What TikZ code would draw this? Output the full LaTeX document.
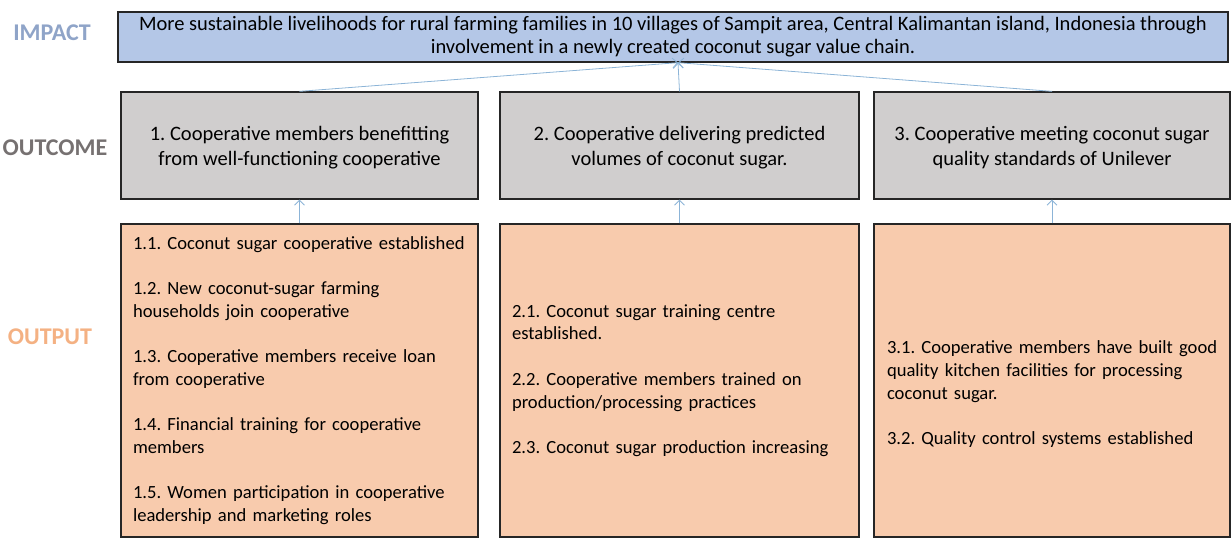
\documentclass[tikz,border=0pt]{standalone}
\usepackage{fontspec}
\setmainfont{Carlito}
\usepackage{tikz}
\usetikzlibrary{arrows.meta}
\usepackage{xcolor}
\definecolor{impactblue}{RGB}{180,199,231}
\definecolor{outcomegray}{RGB}{208,206,206}
\definecolor{outputpeach}{RGB}{248,203,173}
\definecolor{linkblue}{RGB}{140,180,215}
\definecolor{impacttitle}{RGB}{143,164,200}
\definecolor{outcometitle}{RGB}{118,113,113}
\definecolor{outputtitle}{RGB}{244,177,131}
\tikzset{
    level-box/.style = {draw=black!85, line width=1.3pt, rectangle, inner sep=0pt},
    impact-box/.style = {level-box, fill=impactblue, minimum width=1110pt, minimum height=50pt, align=center, font=\fontsize{20.5}{23}\selectfont},
    outcome-box/.style = {level-box, fill=outcomegray, minimum height=107pt, align=center, font=\fontsize{20.5}{25}\selectfont},
    output-box/.style = {level-box, fill=outputpeach, minimum height=313pt, inner xsep=12pt, align=left, font=\fontsize{18.6}{22.7}\selectfont},
    level-title/.style = {font=\fontsize{24}{26}\selectfont\bfseries},
    link/.style = {draw=linkblue, line width=0.8pt, -{Straight Barb[length=5pt,width=10pt]}},
}

\begin{document}
\frenchspacing
\begin{tikzpicture}[x=1pt, y=-1pt]
\useasboundingbox (0,0) rectangle (1231,539);

% level titles
\node[level-title, text=impacttitle] (t-impact) at (52,33) {IMPACT};
\node[level-title, text=outcometitle] (t-outcome) at (55,148) {OUTCOME};
\node[level-title, text=outputtitle] (t-output) at (50,337) {OUTPUT};

% impact
\node[impact-box] (impact) at (673,37) {More sustainable livelihoods for rural farming families in 10 villages of Sampit area, Central Kalimantan island, Indonesia through\\ involvement in a newly created coconut sugar value chain.};

% outcomes
\node[outcome-box, minimum width=357pt] (outcome1) at (299.5,145.5) {\rule{0pt}{18pt}1. Cooperative members benefitting\\ from well-functioning cooperative};
\node[outcome-box, minimum width=359pt] (outcome2) at (679.5,145.5) {\rule{0pt}{18pt}2. Cooperative delivering predicted\\ volumes of coconut sugar.};
\node[outcome-box, minimum width=356pt] (outcome3) at (1052,145.5) {\rule{0pt}{18pt}3. Cooperative meeting coconut sugar\\ quality standards of Unilever};

% outputs
\node[output-box, text width=333pt] (output1) at (299.5,380.5) {1.1. Coconut sugar cooperative established\\[22.7pt]
1.2. New coconut-sugar farming\\ households join cooperative\\[22.7pt]
1.3. Cooperative members receive loan\\ from cooperative\\[22.7pt]
1.4. Financial training for cooperative\\ members\\[22.7pt]
1.5. Women participation in cooperative\\ leadership and marketing roles};
\node[output-box, text width=335pt] (output2) at (679.5,380.5) {2.1. Coconut sugar training centre\\ established.\\[22.7pt]
2.2. Cooperative members trained on\\ production/processing practices\\[22.7pt]
2.3. Coconut sugar production increasing};
\node[output-box, inner xsep=13pt, text width=330pt] (output3) at (1052,380.5) {\rule{0pt}{40pt}\mbox{3.1. Cooperative members have built good}\\ quality kitchen facilities for processing\\ coconut sugar.\\[22.7pt]
3.2. Quality control systems established};

% links
\coordinate (impact-in) at ([xshift=5pt]impact.south);
\foreach \i in {1,2,3} {
    \draw[link] (outcome\i.north) -- (impact-in);
    \draw[link] (output\i.north) -- (outcome\i.south);
}
\end{tikzpicture}
\end{document}
